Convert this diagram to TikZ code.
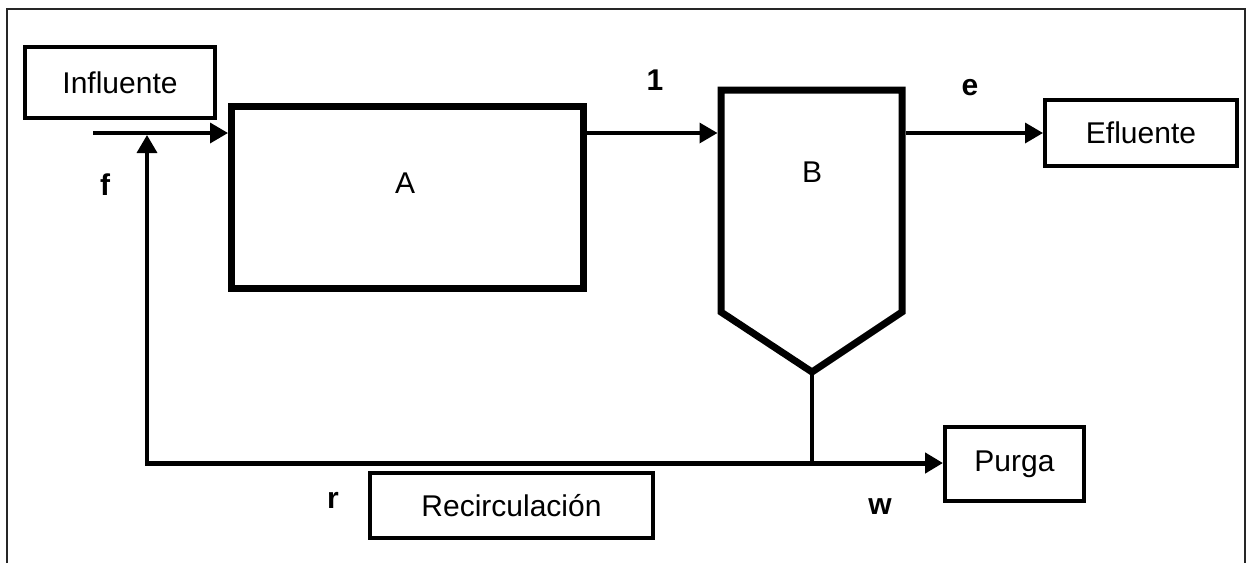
\documentclass[tikz,border=0pt]{standalone}
\usepackage{fontspec}
\setmainfont{Liberation Sans}
\usetikzlibrary{arrows.meta,positioning}

\begin{document}
\begin{tikzpicture}[x=1pt, y=-1pt,
  txt/.style = {font=\fontsize{30}{36}\selectfont},
  box/.style = {draw, line width=4pt, inner sep=0pt, txt},
  tank/.style = {draw, line width=7pt, inner sep=0pt},
  tag/.style = {font=\bfseries\fontsize{30}{36}\selectfont},
  flow/.style = {line width=3.5pt, -{Triangle[length=18pt,width=20pt]}}]
\useasboundingbox (0,0) rectangle (1249,563);
\draw[line width=2pt, black!85] (7,563) -- (7,9) -- (1245,9) -- (1245,563);
\node[box, minimum width=190pt, minimum height=71pt] (inf) at (120,82.5) {Influente};
\node[tank, minimum width=352pt, minimum height=182pt] (A) at (407.5,197.5) {};
\node[txt] (lblA) at (405,183) {A};
\node[inner sep=0pt, outer sep=0pt, minimum width=181pt, minimum height=222pt] (B) at (811.5,201) {};
\coordinate (apex) at (812,372);
\draw[line width=7pt] (B.south west) -- (B.north west) -- (B.north east) -- (B.south east) -- (apex) -- cycle;
\node[txt] (lblB) at (812,172) {B};
\node[box, minimum width=192pt, minimum height=66pt] (efl) at (1141,133) {Efluente};
\node[box, minimum width=139pt, minimum height=74pt] (purga) at (1014.5,464) {Purga};
\node[box, minimum width=283pt, minimum height=65pt] (recirc) at (511.5,505.5) {Recirculación};
% streams
\coordinate (in) at (93,133);
\coordinate (r0) at (147,463);
\draw[flow] (in) -- (in -| A.west);
\draw[flow, shorten >=3.5pt] (A.east |- in) -- (in -| B.west);
\draw[flow, shorten <=3.5pt] (B.east |- efl) -- (efl.west);
\draw[line width=4pt] (apex) -- (apex |- r0);
\draw[flow, line width=5pt] (r0) -- (r0 -| purga.west);
\draw[flow] ([yshift=-2.5pt]r0) -- ([yshift=-2pt]r0 |- in);
% stream labels
\node[tag] (f) at (105,185) {f};
\node[tag] (s1) at (655,80) {1};
\node[tag] (e) at (970,88) {e};
\node[tag] (r) at (333,500) {r};
\node[tag] (w) at (880,507) {w};
\end{tikzpicture}
\end{document}
